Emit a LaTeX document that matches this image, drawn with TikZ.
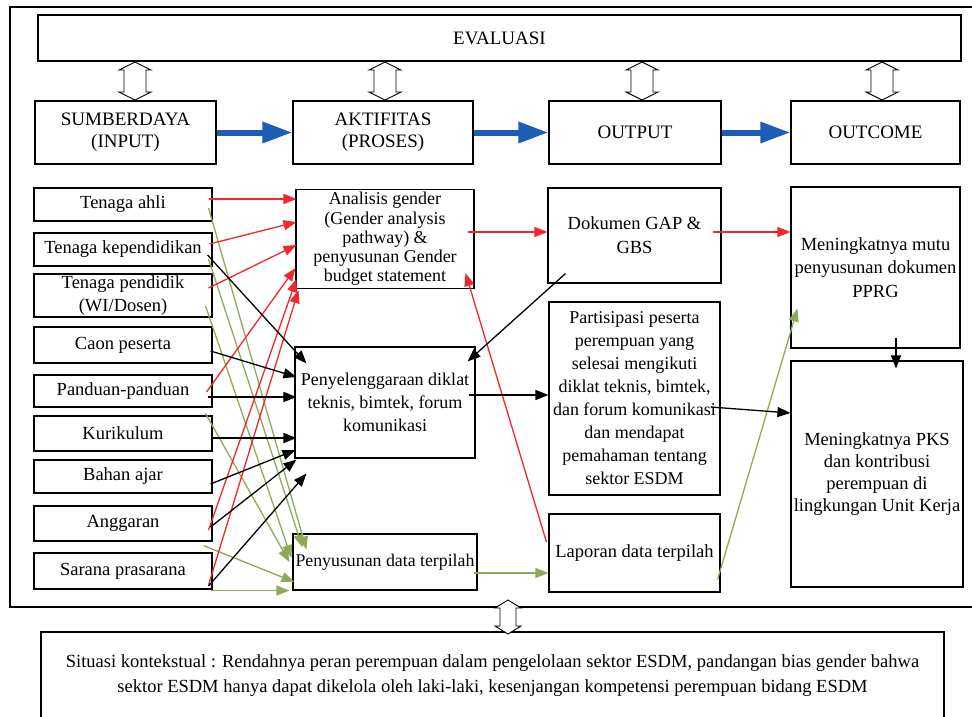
\documentclass[tikz,border=0pt]{standalone}
\usepackage{fontspec}
\setmainfont{Liberation Serif}
\usetikzlibrary{arrows.meta,calc}
\definecolor{rline}{HTML}{F0282D}
\definecolor{gline}{HTML}{8DAA58}
\definecolor{bline}{HTML}{1F5DB5}
% #1 x, #2 top, #3 bottom, #4 head half width, #5 shaft half width
\newcommand{\hollowarrow}[5]{%
  \draw[fill=white, line width=0.9pt] (#1,#2) -- (#1+#4,#2+8) -- (#1+#5,#2+8) -- (#1+#5,#3-8) -- (#1+#4,#3-8) -- (#1,#3) -- (#1-#4,#3-8) -- (#1-#5,#3-8) -- (#1-#5,#2+8) -- (#1-#4,#2+8) -- cycle;}
\begin{document}
\begin{tikzpicture}[x=1pt,y=-1pt,
  box/.style={draw, line width=1.1pt, align=center, inner sep=0pt, font=\fontsize{18.5}{23}\selectfont},
  redarr/.style={draw=rline, line width=1.3pt, -{Triangle[length=13pt,width=10pt]}},
  blkarr/.style={draw=black, line width=1.3pt, -{Triangle[length=13pt,width=10pt]}},
  grnarr/.style={draw=gline, line width=1.3pt, -{Triangle[length=13pt,width=10pt]}},
  bluearr/.style={draw=bline, line width=6pt, -{Triangle[length=30pt,width=20pt]}}]
\useasboundingbox (0,0) rectangle (972,716);
% outer frame
\draw[line width=1.1pt] (10,7) rectangle (990,607);
% top row
\node[box, minimum width=923pt, minimum height=46pt, font=\fontsize{19}{22}\selectfont] (eval) at (499.5,38) {EVALUASI};
\node[box, minimum width=181pt, minimum height=63pt, font=\fontsize{19}{22}\selectfont] (sum) at (125.5,132.5) {SUMBERDAYA\\(INPUT)};
\node[box, minimum width=180pt, minimum height=63pt, font=\fontsize{19}{22}\selectfont] (akt) at (383,132.5) {AKTIFITAS\\(PROSES)};
\node[box, minimum width=172pt, minimum height=63pt, font=\fontsize{19}{22}\selectfont] (out) at (635,132.5) {OUTPUT};
\node[box, minimum width=169pt, minimum height=63pt, font=\fontsize{19}{22}\selectfont] (outc) at (875.5,132.5) {OUTCOME};
\hollowarrow{135}{62}{100}{16}{11}
\hollowarrow{385}{62}{100}{16}{11}
\hollowarrow{642}{62}{100}{16}{11}
\hollowarrow{882}{62}{100}{16}{11}
\draw[bluearr] (sum) -- (akt);
\draw[bluearr] (akt) -- (out);
\draw[bluearr] (out) -- (outc);
% input column
\node[box, minimum width=178pt, minimum height=33pt] (ta) at (123,204.5) {Tenaga ahli};
\node[box, minimum width=178pt, minimum height=33pt] (tk) at (123,249.5) {Tenaga kependidikan};
\node[box, minimum width=178pt, minimum height=43pt] (tp) at (123,295.5) {Tenaga pendidik\\(WI/Dosen)};
\node[box, minimum width=178pt, minimum height=36pt] (cp) at (123,345) {Caon peserta};
\node[box, minimum width=178pt, minimum height=32pt] (pp) at (123,391) {Panduan-panduan};
\node[box, minimum width=178pt, minimum height=35pt] (ku) at (123,433.5) {Kurikulum};
\node[box, minimum width=178pt, minimum height=33pt] (ba) at (123,476.5) {Bahan ajar};
\node[box, minimum width=178pt, minimum height=35pt] (an) at (123,523.5) {Anggaran};
\node[box, minimum width=178pt, minimum height=36pt] (sp) at (123,571) {Sarana prasarana};
% process column
\node[box, minimum width=178pt, minimum height=99pt, font=\fontsize{18}{19.3}\selectfont] (ag) at (385,239) {Analisis gender\\(Gender analysis\\pathway) \&\\penyusunan Gender\\budget statement};
\node[box, minimum width=180pt, minimum height=111pt, font=\fontsize{18}{23}\selectfont] (pd) at (385,402.5) {Penyelenggaraan diklat\\teknis, bimtek, forum\\komunikasi};
\node[box, minimum width=184pt, minimum height=56pt, font=\fontsize{17.8}{23}\selectfont] (pdt) at (385,562) {Penyusunan data terpilah};
% output column
\node[box, minimum width=173pt, minimum height=95pt, font=\fontsize{18.5}{24}\selectfont] (dok) at (634.5,235.5) {Dokumen GAP \&\\GBS};
\node[box, minimum width=171pt, minimum height=193pt, font=\fontsize{18}{23}\selectfont] (par) at (634.5,398.5) {Partisipasi peserta\\perempuan yang\\selesai mengikuti\\diklat teknis, bimtek,\\dan forum komunikasi\\dan mendapat\\pemahaman tentang\\sektor ESDM};
\node[box, minimum width=171pt, minimum height=78pt] (lap) at (634.5,553) {Laporan data terpilah};
% outcome column
\node[box, minimum width=169pt, minimum height=161pt, font=\fontsize{18.5}{23.5}\selectfont] (mm) at (875.5,267.5) {Meningkatnya mutu\\penyusunan dokumen\\PPRG};
\node[box, minimum width=172pt, minimum height=226pt, font=\fontsize{18.5}{22}\selectfont] (pks) at (877,474) {Meningkatnya PKS\\dan kontribusi\\perempuan di\\lingkungan Unit Kerja};
% context
\node[box, minimum width=903pt, minimum height=88pt, font=\fontsize{18.5}{25}\selectfont] (sit) at (492.5,676) {Situasi kontekstual : Rendahnya peran perempuan dalam pengelolaan sektor ESDM, pandangan bias gender bahwa\\sektor ESDM hanya dapat dikelola oleh laki-laki, kesenjangan kompetensi perempuan bidang ESDM};
% green connectors
\draw[grnarr] ($(ta.east)+(-4,3.5)$) -- ($(pdt.north west)+(14,16)$);
\draw[grnarr] ($(tk.east)+(-4,9.5)$) -- ($(pdt.north west)+(10,14)$);
\draw[grnarr] ($(tp.east)+(-7,10.5)$) -- ($(pdt.west)+(-1,-4)$);
\draw[grnarr] ($(pp.south east)+(-7,6)$) -- ($(pdt.west)+(-3,0)$);
\draw[grnarr] ($(an.south east)+(-9,4)$) -- ($(pdt.west)+(2,20)$);
\draw[grnarr] ($(sp.south east)+(-2,1)$) -- ($(pdt.south west)+(-3,0)$);
\draw[grnarr] ($(pdt.east)+(-4,11)$) -- ($(lap.west)+(0,20)$);
\draw[grnarr] ($(lap.south east)+(-3,-13)$) -- ($(mm.south west)+(7,-40)$);
% red connectors
\draw[redarr] ($(ta.east)+(-4,-5.5)$) -- ($(ag.west)+(1,-40)$);
\draw[redarr] ($(tk.east)+(-3,-5.5)$) -- ($(ag.west)+(1,-17)$);
\draw[redarr] ($(tp.east)+(-4,-7.5)$) -- ($(ag.west)+(1,6)$);
\draw[redarr] ($(pp.east)+(-6,1)$) -- ($(ag.west)+(0,29)$);
\draw[redarr] ($(an.east)+(-4,6.5)$) -- ($(ag.west)+(1,40)$);
\draw[redarr] ($(sp.east)+(-4,14)$) -- ($(ag.south west)+(3,1)$);
\draw[redarr] ($(lap.west)+(-2,-11)$) -- ($(ag.south east)+(-9,-16)$);
\draw[redarr] ($(ag.east)+(-7,-7)$) -- ($(dok.west)+(0,-3.5)$);
\draw[redarr] ($(dok.east)+(-9,-3.5)$) -- ($(mm.west)+(0,-35.5)$);
% black connectors
\draw[blkarr] ($(tk.east)+(-5,5.5)$) -- ($(pd.north west)+(12,17)$);
\draw[blkarr] ($(cp.east)+(-2,6)$) -- ($(pd.west)+(2,-25.5)$);
\draw[blkarr] ($(pp.east)+(-5,6)$) -- ($(pd.west)+(2,-5.5)$);
\draw[blkarr] ($(ku.east)+(-2,4.5)$) -- ($(pd.west)+(2,35.5)$);
\draw[blkarr] ($(ba.east)+(-2,7.5)$) -- ($(pd.west)+(1,47.5)$);
\draw[blkarr] ($(an.east)+(-2,3.5)$) -- ($(pd.south west)+(2,1)$);
\draw[blkarr] ($(sp.east)+(-4,15)$) -- ($(pd.south west)+(12,15)$);
\draw[blkarr] ($(dok.south west)+(18,-10)$) -- ($(pd.north east)+(-8,15)$);
\draw[blkarr] ($(pd.east)+(-7,-7.5)$) -- ($(par.west)+(0,-3.5)$);
\draw[blkarr] ($(par.east)+(-10,8.5)$) -- ($(pks.west)+(0,-61)$);
\draw[blkarr] ($(mm.south)+(20.5,-11)$) -- ($(pks.north)+(19,8)$);
% bottom double arrow
\hollowarrow{508}{600}{634}{13}{8}
\end{tikzpicture}
\end{document}
